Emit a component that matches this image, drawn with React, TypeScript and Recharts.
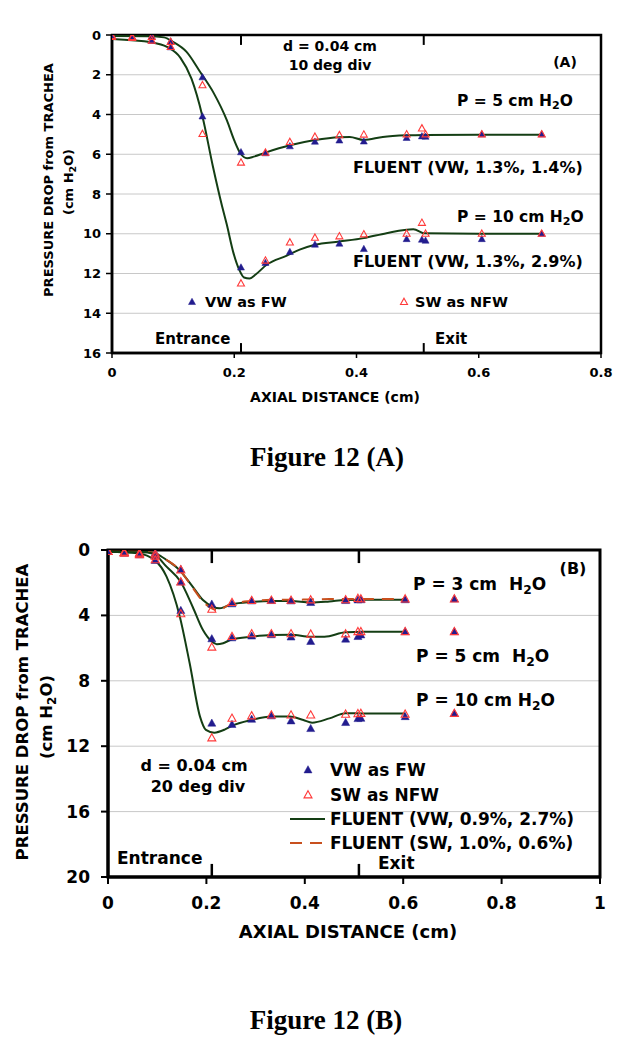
import React from 'react';
import { ComposedChart, Line, Scatter, XAxis, YAxis, CartesianGrid, ReferenceArea, ReferenceLine } from 'recharts';

const FONT = '"DejaVu Sans", Verdana, sans-serif';
const SERIF = '"Liberation Serif", "Times New Roman", serif';
const BLUE = '#221c8e';
const RED = '#ff3a3a';
const GREEN = '#143e14';
const ORANGE = '#c8501e';

// ---------- Figure 12 (A) ----------
const xTicksA = [0, 0.2, 0.4, 0.6, 0.8];
const yTicksA = [0, 2, 4, 6, 8, 10, 12, 14, 16];
const xPtsA = [0, 0.033, 0.065, 0.096, 0.148, 0.211, 0.251, 0.291, 0.332, 0.372, 0.412, 0.482, 0.507, 0.513, 0.605, 0.703];
const vwA5 = [0.05, 0.1, 0.08, 0.33, 2.13, 5.9, 5.95, 5.6, 5.37, 5.31, 5.36, 5.18, 5.1, 5.12, 5.0, 5.0];
const swA5 = [0.05, 0.1, 0.1, 0.35, 2.53, 6.42, 5.92, 5.38, 5.12, 5.04, 5.01, 5.0, 4.7, 5.0, 5.0, 5.0];
const vwA10 = [0.1, 0.15, 0.3, 0.62, 4.1, 11.7, 11.47, 10.92, 10.55, 10.5, 10.77, 10.27, 10.3, 10.35, 10.27, 10.0];
const swA10 = [0.1, 0.15, 0.28, 0.6, 4.98, 12.5, 11.35, 10.44, 10.2, 10.13, 10.03, 10.0, 9.45, 10.0, 10.0, 10.0];

const fluentA5x = [0, 0.06, 0.085, 0.1, 0.122, 0.144, 0.166, 0.188, 0.2, 0.21, 0.221, 0.232, 0.251, 0.291, 0.332, 0.372, 0.389, 0.412, 0.443, 0.482, 0.512, 0.6, 0.703];
const fluentA5y = [0.05, 0.06, 0.12, 0.35, 0.85, 1.85, 2.9, 4.3, 5.3, 5.95, 6.2, 6.12, 5.92, 5.55, 5.28, 5.14, 5.13, 5.28, 5.13, 5.05, 5.03, 5.02, 5.02];
const fluentA10x = [0, 0.065, 0.09, 0.112, 0.13, 0.148, 0.165, 0.18, 0.1875, 0.199, 0.208, 0.216, 0.225, 0.235, 0.253, 0.286, 0.307, 0.332, 0.372, 0.412, 0.449, 0.493, 0.512, 0.6, 0.703];
const fluentA10y = [0.2, 0.37, 0.6, 1.15, 2.2, 4.1, 6.6, 8.6, 9.5, 11.0, 11.8, 12.2, 12.25, 12.05, 11.56, 11.1, 10.8, 10.55, 10.39, 10.22, 9.97, 9.77, 9.98, 10.0, 10.0];

// ---------- Figure 12 (B) ----------
const xTicksB = [0, 0.2, 0.4, 0.6, 0.8, 1];
const yTicksB = [0, 4, 8, 12, 16, 20];
const xPtsB = [0, 0.033, 0.064, 0.096, 0.148, 0.211, 0.252, 0.292, 0.332, 0.372, 0.412, 0.483, 0.508, 0.514, 0.604, 0.704];
const vwB3 = [0.1, 0.15, 0.2, 0.2, 1.2, 3.32, 3.3, 3.12, 3.1, 3.12, 3.22, 3.1, 3.06, 3.05, 3.05, 3.0];
const swB3 = [0.1, 0.15, 0.2, 0.25, 1.22, 3.63, 3.22, 3.1, 3.08, 3.08, 3.06, 3.05, 2.97, 3.0, 3.0, 3.0];
const vwB5 = [0.1, 0.15, 0.25, 0.35, 1.96, 5.44, 5.38, 5.27, 5.19, 5.33, 5.6, 5.46, 5.3, 5.2, 5.0, 5.0];
const swB5 = [0.1, 0.15, 0.25, 0.38, 1.96, 5.95, 5.3, 5.13, 5.13, 5.13, 5.15, 5.14, 5.0, 5.0, 5.0, 5.0];
const vwB10 = [0.1, 0.2, 0.3, 0.65, 3.71, 10.6, 10.68, 10.36, 10.15, 10.46, 10.93, 10.56, 10.32, 10.3, 10.2, 10.0];
const swB10 = [0.1, 0.2, 0.3, 0.6, 3.91, 11.5, 10.3, 10.15, 10.1, 10.1, 10.1, 10.05, 10.02, 10.0, 10.05, 10.0];

const fluentB3x = [0, 0.08, 0.1, 0.119, 0.145, 0.172, 0.193, 0.213, 0.226, 0.24, 0.252, 0.292, 0.332, 0.372, 0.412, 0.45, 0.483, 0.52, 0.604];
const fluentB3y = [0.1, 0.12, 0.25, 0.61, 1.22, 2.24, 3.06, 3.47, 3.57, 3.45, 3.32, 3.18, 3.12, 3.12, 3.22, 3.15, 3.06, 3.05, 3.05];
const fluentSWB3y = [0.1, 0.12, 0.25, 0.6, 1.2, 2.3, 3.15, 3.6, 3.7, 3.45, 3.28, 3.12, 3.05, 3.05, 3.02, 3.0, 3.0, 3.0, 3.0];
const fluentB5x = [0, 0.08, 0.096, 0.119, 0.148, 0.172, 0.193, 0.211, 0.221, 0.234, 0.252, 0.292, 0.332, 0.372, 0.412, 0.44, 0.483, 0.52, 0.604];
const fluentB5y = [0.1, 0.15, 0.3, 1.02, 1.96, 3.47, 4.9, 5.6, 5.76, 5.7, 5.46, 5.3, 5.2, 5.18, 5.3, 5.3, 5.03, 5.0, 5.0];
const fluentB10x = [0, 0.06, 0.096, 0.119, 0.146, 0.166, 0.187, 0.199, 0.216, 0.238, 0.251, 0.292, 0.332, 0.369, 0.397, 0.415, 0.45, 0.483, 0.52, 0.604];
const fluentB10y = [0.1, 0.2, 0.65, 1.63, 4.08, 6.93, 10.19, 11.0, 11.17, 10.97, 10.77, 10.4, 10.19, 10.19, 10.4, 10.56, 10.3, 9.98, 10.0, 10.0];

const entranceX = 0.211;
const exitX = 0.51;

const zip = (xs: number[], ys: number[]) => xs.map((x, i) => ({ x, y: ys[i] }));
const fmt = (v: number) => String(Math.round(v * 10) / 10);

const triPath = (cx: number, cy: number, s: number) => {
  const h = s * 0.9;
  return `M${cx},${cy - h * 0.6}L${cx + s / 2},${cy + h * 0.4}L${cx - s / 2},${cy + h * 0.4}Z`;
};
const filledTri = (s: number) => (p: any) =>
  p.cx == null ? <g /> : <path d={triPath(p.cx, p.cy, s)} fill={BLUE} stroke={BLUE} strokeWidth={0.5} />;
const openTri = (s: number) => (p: any) =>
  p.cx == null ? <g /> : <path d={triPath(p.cx, p.cy, s)} fill="none" stroke={RED} strokeWidth={1.1} />;

const Sub2 = () => (
  <span style={{ fontSize: '0.72em', position: 'relative', top: '0.3em' }}>2</span>
);

type TP = { x: number; y: number; size: number; center?: boolean; children: React.ReactNode; serif?: boolean };
const T = ({ x, y, size, center, children, serif }: TP) => (
  <div
    style={{
      position: 'absolute',
      left: x,
      top: y,
      transform: center ? 'translate(-50%, -50%)' : 'translateY(-50%)',
      fontFamily: serif ? SERIF : FONT,
      fontWeight: 'bold',
      fontSize: size,
      lineHeight: 1,
      whiteSpace: 'pre',
      color: '#000',
    }}
  >
    {children}
  </div>
);
const VT = ({ x, y, size, children }: { x: number; y: number; size: number; children: React.ReactNode }) => (
  <div
    style={{
      position: 'absolute',
      left: x,
      top: y,
      transform: 'translate(-50%, -50%) rotate(-90deg)',
      fontFamily: FONT,
      fontWeight: 'bold',
      fontSize: size,
      lineHeight: 1,
      whiteSpace: 'pre',
      color: '#000',
    }}
  >
    {children}
  </div>
);
const LegendMark = ({ x, y, s, open }: { x: number; y: number; s: number; open?: boolean }) => (
  <svg style={{ position: 'absolute', left: x - 8, top: y - 8 }} width={16} height={16}>
    <path d={triPath(8, 8, s)} fill={open ? 'none' : BLUE} stroke={open ? RED : BLUE} strokeWidth={open ? 1.1 : 0.5} />
  </svg>
);
const LegendLine = ({ x1, x2, y, color, dashed }: { x1: number; x2: number; y: number; color: string; dashed?: boolean }) => (
  <svg style={{ position: 'absolute', left: x1, top: y - 3 }} width={x2 - x1} height={6}>
    <line x1={0} x2={x2 - x1} y1={3} y2={3} stroke={color} strokeWidth={2} strokeDasharray={dashed ? '12 8' : undefined} />
  </svg>
);

const ChartA = () => {
  const tick = { fontFamily: FONT, fontSize: 13, fontWeight: 'bold', fill: '#000' };
  return (
    <ComposedChart width={631} height={420} margin={{ top: 35, right: 30, bottom: 12, left: 0 }}>
      <CartesianGrid vertical={false} stroke="#c8c8c8" strokeWidth={1} />
      <XAxis type="number" dataKey="x" domain={[0, 0.8]} ticks={xTicksA} tickFormatter={fmt} height={55}
        tick={tick} tickSize={5} tickMargin={10} axisLine={{ stroke: '#000', strokeWidth: 2.5 }} tickLine={{ stroke: '#000', strokeWidth: 1.5 }} allowDataOverflow />
      <YAxis type="number" dataKey="y" domain={[0, 16]} ticks={yTicksA} reversed width={112} interval={0}
        tick={tick} tickSize={6} tickMargin={5} axisLine={{ stroke: '#000', strokeWidth: 2.5 }} tickLine={{ stroke: '#000', strokeWidth: 1.5 }} allowDataOverflow />
      <Line data={zip(fluentA5x, fluentA5y)} dataKey="y" type="monotone" stroke={GREEN} strokeWidth={2} dot={false} isAnimationActive={false} />
      <Line data={zip(fluentA10x, fluentA10y)} dataKey="y" type="monotone" stroke={GREEN} strokeWidth={2} dot={false} isAnimationActive={false} />
      <Scatter data={zip(xPtsA, vwA5)} dataKey="y" shape={filledTri(7)} isAnimationActive={false} />
      <Scatter data={zip(xPtsA, vwA10)} dataKey="y" shape={filledTri(7)} isAnimationActive={false} />
      <Scatter data={zip(xPtsA, swA5)} dataKey="y" shape={openTri(7)} isAnimationActive={false} />
      <Scatter data={zip(xPtsA, swA10)} dataKey="y" shape={openTri(7)} isAnimationActive={false} />
      <ReferenceArea x1={0} x2={0.8} y1={0} y2={16} fill="none" stroke="#000" strokeWidth={2.5} />
      <ReferenceLine segment={[{ x: entranceX, y: 0 }, { x: entranceX, y: 0.5 }]} stroke="#000" strokeWidth={2} />
      <ReferenceLine segment={[{ x: entranceX, y: 16 }, { x: entranceX, y: 15.5 }]} stroke="#000" strokeWidth={2} />
      <ReferenceLine segment={[{ x: exitX, y: 0 }, { x: exitX, y: 0.5 }]} stroke="#000" strokeWidth={2} />
      <ReferenceLine segment={[{ x: exitX, y: 16 }, { x: exitX, y: 15.5 }]} stroke="#000" strokeWidth={2} />
    </ComposedChart>
  );
};

const ChartB = () => {
  const tick = { fontFamily: FONT, fontSize: 17, fontWeight: 'bold', fill: '#000' };
  return (
    <ComposedChart width={631} height={440} margin={{ top: 35, right: 31, bottom: 18, left: 0 }}>
      <CartesianGrid vertical={false} stroke="#c8c8c8" strokeWidth={1} />
      <XAxis type="number" dataKey="x" domain={[0, 1]} ticks={xTicksB} tickFormatter={fmt} height={60}
        tick={tick} tickSize={7} tickMargin={13} axisLine={{ stroke: '#000', strokeWidth: 3 }} tickLine={{ stroke: '#000', strokeWidth: 2 }} allowDataOverflow />
      <YAxis type="number" dataKey="y" domain={[0, 20]} ticks={yTicksB} reversed width={108} interval={0}
        tick={tick} tickSize={7} tickMargin={11} axisLine={{ stroke: '#000', strokeWidth: 3 }} tickLine={{ stroke: '#000', strokeWidth: 2 }} allowDataOverflow />
      <Line data={zip(fluentB3x, fluentB3y)} dataKey="y" type="monotone" stroke={GREEN} strokeWidth={2} dot={false} isAnimationActive={false} />
      <Line data={zip(fluentB3x, fluentSWB3y)} dataKey="y" type="monotone" stroke={ORANGE} strokeWidth={2} strokeDasharray="12 8" dot={false} isAnimationActive={false} />
      <Line data={zip(fluentB5x, fluentB5y)} dataKey="y" type="monotone" stroke={GREEN} strokeWidth={2} dot={false} isAnimationActive={false} />
      <Line data={zip(fluentB10x, fluentB10y)} dataKey="y" type="monotone" stroke={GREEN} strokeWidth={2} dot={false} isAnimationActive={false} />
      <Scatter data={zip(xPtsB, vwB3)} dataKey="y" shape={filledTri(8)} isAnimationActive={false} />
      <Scatter data={zip(xPtsB, vwB5)} dataKey="y" shape={filledTri(8)} isAnimationActive={false} />
      <Scatter data={zip(xPtsB, vwB10)} dataKey="y" shape={filledTri(8)} isAnimationActive={false} />
      <Scatter data={zip(xPtsB, swB3)} dataKey="y" shape={openTri(8)} isAnimationActive={false} />
      <Scatter data={zip(xPtsB, swB5)} dataKey="y" shape={openTri(8)} isAnimationActive={false} />
      <Scatter data={zip(xPtsB, swB10)} dataKey="y" shape={openTri(8)} isAnimationActive={false} />
      <ReferenceArea x1={0} x2={1} y1={0} y2={20} fill="none" stroke="#000" strokeWidth={3} />
      <ReferenceLine segment={[{ x: entranceX, y: 0 }, { x: entranceX, y: 0.8 }]} stroke="#000" strokeWidth={2.5} />
      <ReferenceLine segment={[{ x: entranceX, y: 20 }, { x: entranceX, y: 19.2 }]} stroke="#000" strokeWidth={2.5} />
      <ReferenceLine segment={[{ x: exitX, y: 0 }, { x: exitX, y: 0.8 }]} stroke="#000" strokeWidth={2.5} />
      <ReferenceLine segment={[{ x: exitX, y: 20 }, { x: exitX, y: 19.2 }]} stroke="#000" strokeWidth={2.5} />
    </ComposedChart>
  );
};

export default function App() {
  return (
    <div style={{ position: 'absolute', left: 0, top: 0, width: 631, height: 1050, background: '#fff', overflow: 'hidden' }}>
      <div style={{ position: 'absolute', left: 0, top: 0 }}>
        <ChartA />
      </div>
      <div style={{ position: 'absolute', left: 0, top: 515 }}>
        <ChartB />
      </div>

      {/* Figure A annotations */}
      <VT x={48} y={180} size={13}>PRESSURE DROP from TRACHEA</VT>
      <VT x={68} y={182} size={13}>(cm H<Sub2 />O)</VT>
      <T x={335} y={397} size={14} center>AXIAL DISTANCE (cm)</T>
      <T x={330} y={46} size={14} center>d = 0.04 cm</T>
      <T x={330} y={65} size={14} center>10 deg div</T>
      <T x={565} y={62} size={14} center>(A)</T>
      <T x={457} y={102} size={15.5}>P = 5 cm H<Sub2 />O</T>
      <T x={353} y={168} size={16}>FLUENT (VW, 1.3%, 1.4%)</T>
      <T x={457} y={218} size={15.5}>P = 10 cm H<Sub2 />O</T>
      <T x={353} y={262} size={16}>FLUENT (VW, 1.3%, 2.9%)</T>
      <LegendMark x={192} y={302} s={7} />
      <T x={205} y={302} size={14.5}>VW as FW</T>
      <LegendMark x={404} y={302} s={7} open />
      <T x={415} y={302} size={14.5}>SW as NFW</T>
      <T x={155} y={339} size={15}>Entrance</T>
      <T x={435} y={339} size={15}>Exit</T>
      <T x={327} y={457} size={27} center serif>Figure 12 (A)</T>

      {/* Figure B annotations */}
      <VT x={23} y={712} size={16.5}>PRESSURE DROP from TRACHEA</VT>
      <VT x={47} y={717} size={16.5}>(cm H<Sub2 />O)</VT>
      <T x={348} y={932} size={18} center>AXIAL DISTANCE (cm)</T>
      <T x={573} y={569} size={16} center>(B)</T>
      <T x={413} y={584} size={17}>P = 3 cm  H<Sub2 />O</T>
      <T x={416} y={656} size={17}>P = 5 cm  H<Sub2 />O</T>
      <T x={416} y={700} size={17}>P = 10 cm H<Sub2 />O</T>
      <T x={194} y={766} size={16} center>d = 0.04 cm</T>
      <T x={198} y={787} size={16} center>20 deg div</T>
      <LegendMark x={308} y={770} s={8} />
      <T x={330} y={770} size={17}>VW as FW</T>
      <LegendMark x={308} y={795} s={8} open />
      <T x={330} y={795} size={17}>SW as NFW</T>
      <LegendLine x1={290} x2={325} y={819} color={GREEN} />
      <T x={330} y={819} size={17}>FLUENT (VW, 0.9%, 2.7%)</T>
      <LegendLine x1={290} x2={322} y={843} color={ORANGE} dashed />
      <T x={330} y={843} size={17}>FLUENT (SW, 1.0%, 0.6%)</T>
      <T x={117} y={858} size={17}>Entrance</T>
      <T x={378} y={863} size={17}>Exit</T>
      <T x={326} y={1020} size={27} center serif>Figure 12 (B)</T>
    </div>
  );
}
